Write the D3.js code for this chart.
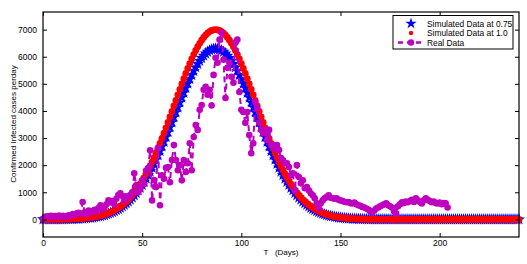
<!DOCTYPE html>
<html><head><meta charset="utf-8">
<script src="https://cdn.jsdelivr.net/npm/d3@7"></script>
<style>body{margin:0;background:#fff} svg{display:block} text{font-family:"Liberation Sans",Arial,sans-serif}</style>
</head><body><svg id="c" width="527" height="264"></svg>
<script>
const xTicks = [0,50,100,150,200];
const yTicks = [0,1000,2000,3000,4000,5000,6000,7000];
const legendLabels = ["Simulated Data at 0.75","Simulated Data at 1.0","Real Data"];

// Simulated at 1.0, days 0..240
const sim10 = [1,1,1,2,2,3,3,4,5,6,7,8,10,12,14,17,20,23,27,32,37,43,51,59,68,79,91,105,121,138,158,180,205,233,264,298,336,379,425,476,532,593,659,731,809,894,984,1082,1187,1298,1417,1543,1676,1817,1964,2119,2281,2449,2624,2804,2990,3181,3376,3574,3776,3980,4184,4389,4594,4796,4996,5192,5384,5569,5747,5917,6078,6229,6369,6496,6611,6712,6799,6871,6927,6967,6992,7000,
6992,6967,6927,6871,6799,6712,6611,6496,6369,6229,6078,5917,5747,5569,5384,5192,4996,4796,4594,4389,4184,3980,3776,3574,3376,3181,2990,2804,2624,2449,2281,2119,1964,1817,1676,1543,1417,1298,1187,1082,984,894,809,731,659,593,532,476,425,379,336,298,264,233,205,180,158,138,121,105,91,79,68,59,51,43,37,32,27,23,20,17,14,12,10,8,7,6,5,4,3,3,2,2,1,1,1,
0,0,0,0,0,0,0,0,0,0,0,0,0,0,0,0,0,0,0,0,0,0,0,0,0,0,0,0,0,0,0,0,0,0,0,0,0,0,0,0,0,0,0,0,0,0,0,0,0,0,0,0,0,0,0,0,0,0,0,0,0,0,0,0,0,0];
// Simulated at 0.75, days 0..240
const sim075 = [1,1,1,2,2,3,3,4,5,5,6,7,9,11,13,15,18,21,24,29,33,39,46,53,61,71,82,95,109,124,142,162,185,210,238,268,302,341,383,428,479,534,593,658,728,805,886,974,1068,1168,1275,1389,1508,1635,1768,1907,2053,2204,2362,2524,2691,2863,3038,3217,3398,3582,3766,3950,4135,4316,4496,4673,4846,5012,5172,5325,5470,5606,5732,5846,5950,6041,6119,6184,6234,6270,6293,6300,
6293,6270,6234,6184,6119,6041,5950,5846,5732,5606,5470,5325,5172,5012,4846,4673,4496,4316,4135,3950,3766,3582,3398,3217,3038,2863,2691,2524,2362,2204,2053,1907,1768,1635,1508,1389,1275,1168,1068,974,886,805,728,658,593,534,479,428,383,341,302,268,238,210,185,162,142,124,109,95,82,71,61,53,46,39,33,29,24,21,18,15,13,11,9,7,6,5,5,4,3,3,2,2,1,1,1,
0,0,0,0,0,0,0,0,0,0,0,0,0,0,0,0,0,0,0,0,0,0,0,0,0,0,0,0,0,0,0,0,0,0,0,0,0,0,0,0,0,0,0,0,0,0,0,0,0,0,0,0,0,0,0,0,0,0,0,0,0,0,0,0,0,0];
// Real data, days 0..204
const realData = [20,60,110,90,130,100,120,90,140,110,
130,80,120,150,130,200,160,220,240,200,
640,260,200,330,250,300,350,280,420,520,
380,450,560,700,620,680,550,760,900,960,
860,700,850,820,900,1000,1700,1260,1000,1100,
1440,1300,1800,1890,2550,700,1450,1190,2630,520,
1630,1500,1900,1930,1370,2190,2740,2190,1810,2000,
1440,2190,1750,2070,2810,1810,3040,3480,3300,4040,
4220,4780,4890,4600,4780,4200,5330,5960,5780,6630,
6890,5890,4480,5590,5780,5260,5040,6520,6630,4700,
4040,3960,3560,3960,3110,2440,2810,4330,4110,3560,
3300,3180,3300,2930,3300,2740,2740,2600,2740,2560,
2260,2180,2070,2070,1930,1630,1700,1070,2000,1560,
1330,1440,1150,1190,1070,960,890,780,590,410,
590,700,780,820,890,800,780,760,780,720,
700,680,650,630,640,600,590,620,560,520,
500,460,440,400,360,300,260,330,400,440,
480,520,560,590,520,480,440,300,220,480,
560,630,600,660,630,680,720,640,780,700,
640,590,700,780,720,680,630,660,600,590,
620,560,600,590,440];

const svg = d3.select("#c");
const L=43, R=519, T=12, B=237;
const x = d3.scaleLinear().domain([0,240]).range([L,R]);
const y = d3.scaleLinear().domain([-650,7650]).range([B,T]);
const BLUE="#0000FF", RED="#FF0000", MAG="#BF00BF";

const star = d3.symbol().type(d3.symbolStar).size(46);
svg.append("g").selectAll("path").data(sim075).join("path")
  .attr("d", star).attr("fill", BLUE)
  .attr("transform",(v,i)=>`translate(${x(i)},${y(v)})`);
svg.append("g").selectAll("circle").data(sim10).join("circle")
  .attr("cx",(v,i)=>x(i)).attr("cy",v=>y(v)).attr("r",3.4).attr("fill",RED);

const line = d3.line().x((v,i)=>x(i)).y(v=>y(v));
svg.append("path").datum(realData).attr("d",line).attr("fill","none")
  .attr("stroke",MAG).attr("stroke-width",2).attr("stroke-dasharray","6,4");
svg.append("g").selectAll("circle").data(realData).join("circle")
  .attr("cx",(v,i)=>x(i)).attr("cy",v=>y(v)).attr("r",3.3).attr("fill",MAG);

// axes
const fs = "8.5px";
const gx = svg.append("g").attr("transform",`translate(0,${B})`)
  .call(d3.axisBottom(x).tickValues(xTicks).tickSizeInner(-4).tickSizeOuter(0).tickPadding(3).tickFormat(d3.format("d")));
const gxt = svg.append("g").attr("transform",`translate(0,${T})`)
  .call(d3.axisTop(x).tickValues(xTicks).tickSizeInner(-4).tickSizeOuter(0).tickFormat(""));
const gy = svg.append("g").attr("transform",`translate(${L},0)`)
  .call(d3.axisLeft(y).tickValues(yTicks).tickSizeInner(-4).tickSizeOuter(0).tickPadding(6).tickFormat(d3.format("d")));
const gyr = svg.append("g").attr("transform",`translate(${R},0)`)
  .call(d3.axisRight(y).tickValues(yTicks).tickSizeInner(-4).tickSizeOuter(0).tickFormat(""));
[gx,gxt,gy,gyr].forEach(g=>{
  g.selectAll("text").attr("font-size",fs).attr("fill","#000").attr("font-family","Liberation Sans, Arial, sans-serif");
  g.selectAll("line").attr("stroke","#000");
  g.select(".domain").remove();
});
svg.append("rect").attr("x",L).attr("y",T).attr("width",R-L).attr("height",B-T)
  .attr("fill","none").attr("stroke","#000").attr("stroke-width",1.2);

svg.append("text").attr("x",(L+R)/2).attr("y",255).attr("text-anchor","middle")
  .attr("font-size","8px").attr("xml:space","preserve").text("T   (Days)");
svg.append("text").attr("transform","translate(16,124) rotate(-90)").attr("text-anchor","middle")
  .attr("font-size","8px").text("Confirmed Infected cases perday");

// legend
const lg = svg.append("g");
lg.append("rect").attr("x",393).attr("y",15.5).attr("width",120).attr("height",33.5)
  .attr("fill","#fff").attr("stroke","#000").attr("stroke-width",1);
const rows=[23.5,33,42.5];
lg.append("path").attr("d",d3.symbol().type(d3.symbolStar).size(40)()).attr("fill",BLUE)
  .attr("transform",`translate(411,${rows[0]})`);
lg.append("circle").attr("cx",411).attr("cy",rows[1]).attr("r",2.2).attr("fill",RED);
lg.append("line").attr("x1",398).attr("x2",424).attr("y1",rows[2]).attr("y2",rows[2])
  .attr("stroke",MAG).attr("stroke-width",2.5).attr("stroke-dasharray","5,4");
lg.append("circle").attr("cx",411).attr("cy",rows[2]).attr("r",3.2).attr("fill",MAG);
legendLabels.forEach((t,i)=>{
  lg.append("text").attr("x",427).attr("y",rows[i]+3).attr("font-size","8.4px").text(t);
});
</script></body></html>
